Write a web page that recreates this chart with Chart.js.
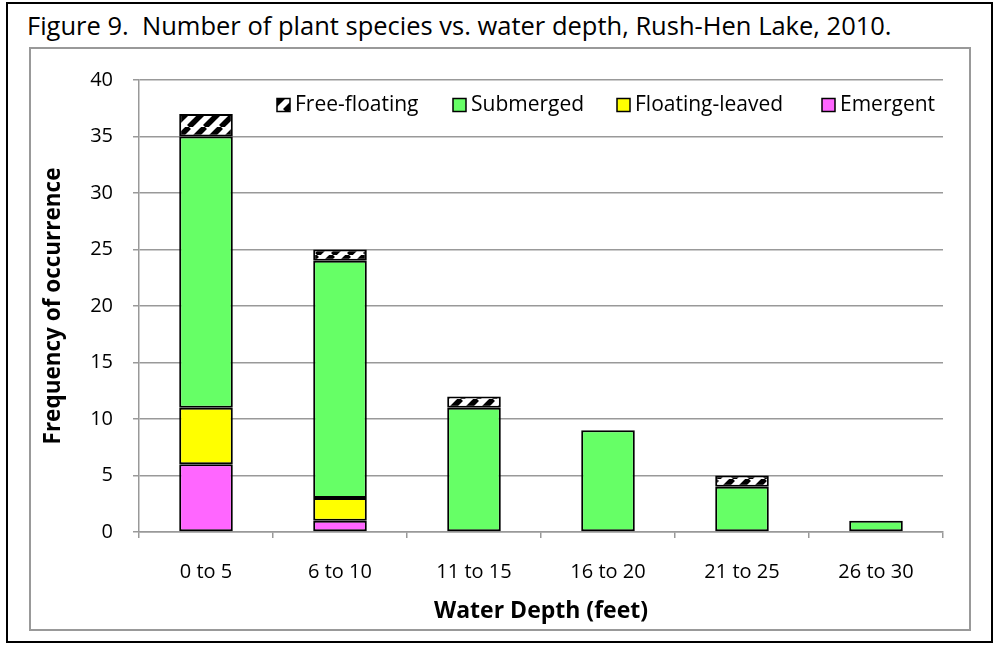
<!DOCTYPE html>
<html>
<head>
<meta charset="utf-8">
<script src="https://cdn.jsdelivr.net/npm/chart.js@4/dist/chart.umd.min.js"></script>
<style>
  html, body { margin: 0; padding: 0; background: #fff; }
  #frame { position: absolute; left: 6px; top: 2px; width: 983px; height: 637px; border: 2px solid #000; }
  #title { position: absolute; left: 27px; top: 8px; font: 25.5px "Open Sans", sans-serif; white-space: pre; color: #000; }
  #box { position: absolute; left: 29px; top: 47px; width: 938px; height: 580px; border: 2px solid #999; }
  #wrap { position: absolute; left: 29px; top: 47px; width: 942px; height: 584px; }
</style>
</head>
<body>
<div id="frame"></div>
<div id="title">Figure 9.  Number of plant species vs. water depth, Rush-Hen Lake, 2010.</div>
<div id="box"></div>
<div id="wrap"><canvas id="chart"></canvas></div>
<script>
const categories = ['0 to 5', '6 to 10', '11 to 15', '16 to 20', '21 to 25', '26 to 30'];
const emergent = [6, 1, 0, 0, 0, 0];
const floatingLeaved = [5, 2, 0, 0, 0, 0];
const submerged = [24, 21, 11, 9, 4, 1];
const freeFloating = [2, 1, 1, 0, 1, 0];
const yMax = 40;
const yStep = 5;

const FONT = '"Open Sans", sans-serif';

// black/white diagonal hatch used for free-floating
const hatch = (() => {
  const s = 16;
  const c = document.createElement('canvas');
  c.width = c.height = s;
  const g = c.getContext('2d');
  g.fillStyle = '#fff';
  g.fillRect(0, 0, s, s);
  g.strokeStyle = '#000';
  g.lineWidth = 5.5;
  for (const k of [-s, 0, s]) {
    g.beginPath();
    g.moveTo(k, s);
    g.lineTo(k + s, 0);
    g.stroke();
  }
  return g.createPattern(c, 'repeat');
})();

const bw = ctx => (ctx.raw ? 2 : 0);

// legend drawn inside the plot, top right, reversed order like the original
const insideLegend = {
  id: 'insideLegend',
  afterDraw(chart) {
    const g = chart.ctx;
    const items = chart.data.datasets.slice().reverse();
    const xs = [248, 424, 588, 793];
    const y = 58;
    g.save();
    g.font = '21px ' + FONT;
    g.textBaseline = 'middle';
    items.forEach((ds, i) => {
      const x = xs[i];
      g.fillStyle = ds.backgroundColor;
      g.fillRect(x, y - 6.5, 13, 13);
      g.strokeStyle = '#000';
      g.lineWidth = 1.5;
      g.strokeRect(x, y - 6.5, 13, 13);
      g.fillStyle = '#000';
      g.fillText(ds.label, x + 18, y);
    });
    g.restore();
  }
};

new Chart(document.getElementById('chart'), {
  type: 'bar',
  data: {
    labels: categories,
    datasets: [
      { label: 'Emergent', data: emergent, backgroundColor: '#FF66FF' },
      { label: 'Floating-leaved', data: floatingLeaved, backgroundColor: '#FFFF00' },
      { label: 'Submerged', data: submerged, backgroundColor: '#66FF66' },
      { label: 'Free-floating', data: freeFloating, backgroundColor: hatch }
    ].map(d => Object.assign(d, {
      borderColor: '#000', borderWidth: bw, borderSkipped: false,
      barPercentage: 0.4, categoryPercentage: 1
    }))
  },
  options: {
    responsive: true,
    maintainAspectRatio: false,
    animation: false,
    layout: { padding: { left: 7, top: 33, right: 28, bottom: 2 } },
    plugins: { legend: { display: false }, tooltip: { enabled: false } },
    scales: {
      x: {
        stacked: true,
        offset: true,
        afterFit: s => { s.height = 97; },
        grid: { offset: true, drawOnChartArea: false, color: '#999', lineWidth: 1.5, tickLength: 6 },
        border: { color: '#999', width: 1.5 },
        ticks: { color: '#000', font: { family: FONT, size: 20 }, padding: 22 },
        title: { display: true, text: 'Water Depth (feet)', color: '#000', font: { family: FONT, size: 23, weight: 'bold' }, padding: { top: 4, bottom: 4 } }
      },
      y: {
        stacked: true,
        min: 0,
        max: yMax,
        afterFit: s => { s.width = 103; },
        grid: { color: '#999', lineWidth: 1.5, tickLength: 6 },
        border: { color: '#999', width: 1.5 },
        ticks: { stepSize: yStep, color: '#000', font: { family: FONT, size: 20 }, padding: 20 },
        title: { display: true, text: 'Frequency of occurrence', color: '#000', font: { family: FONT, size: 22.5, weight: 'bold' }, padding: { top: 4, bottom: 4 } }
      }
    }
  },
  plugins: [insideLegend]
});
</script>
</body>
</html>
